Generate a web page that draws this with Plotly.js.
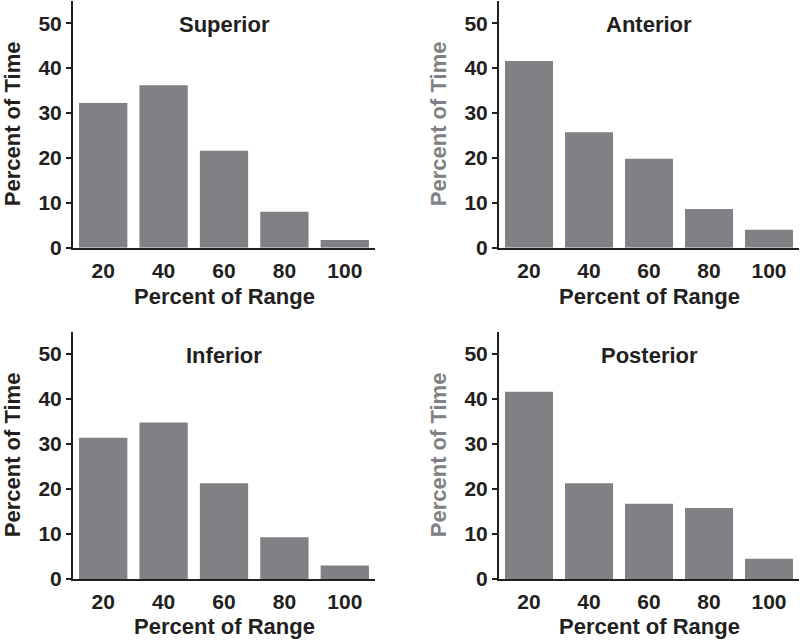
<!DOCTYPE html>
<html>
<head>
<meta charset="utf-8">
<script src="https://cdn.plot.ly/plotly-3.0.1.min.js"></script>
<style>
html,body{margin:0;padding:0;background:#fff;}
#chart{width:800px;height:640px;}
</style>
</head>
<body>
<div id="chart"></div>
<script>
const categories = ["20", "40", "60", "80", "100"];
const panelTitles = ["Superior", "Anterior", "Inferior", "Posterior"];
const superior = [32.2, 36.2, 21.6, 8.0, 1.7];
const anterior = [41.6, 25.7, 19.8, 8.6, 4.0];
const inferior = [31.4, 34.8, 21.3, 9.3, 3.0];
const posterior = [41.6, 21.3, 16.7, 15.8, 4.5];
const yTickVals = [0, 10, 20, 30, 40, 50];
const xTitle = "Percent of Range";
const yTitle = "Percent of Time";

const series = [superior, anterior, inferior, posterior];
const barColor = "#808184";
const textColor = "#231f20";
const grayTitle = "#808184";
const FONT = "Liberation Sans, Arial, Helvetica, sans-serif";

const W = 800, H = 640;
// pixel boxes for each panel: [left, right, top, bottom]
const boxes = [
  [73, 375, 0.7, 247.7],
  [499, 799, 0.7, 247.7],
  [73, 375, 331.5, 579],
  [499, 799, 331.5, 579]
];
const xTitleOffset = [49, 49, 47, 47];

const data = [];
const layout = {
  width: W, height: H,
  margin: {l: 0, r: 0, t: 0, b: 0},
  paper_bgcolor: "#fff", plot_bgcolor: "rgba(0,0,0,0)",
  showlegend: false,
  bargap: 0.2,
  font: {family: FONT, color: textColor, size: 21, weight: "bold"},
  annotations: []
};

series.forEach((vals, i) => {
  const n = i + 1;
  const xa = n === 1 ? "x" : "x" + n;
  const ya = n === 1 ? "y" : "y" + n;
  data.push({
    type: "bar", x: categories, y: vals, xaxis: xa, yaxis: ya,
    marker: {color: barColor, line: {width: 0}},
    hoverinfo: "x+y"
  });
  const b = boxes[i];
  layout[n === 1 ? "xaxis" : "xaxis" + n] = {
    domain: [b[0] / W, b[1] / W],
    anchor: ya,
    type: "category",
    range: [-0.5, 4.5],
    showline: true, linecolor: textColor, linewidth: 2,
    ticks: "outside", ticklen: 3, tickcolor: "rgba(0,0,0,0)",
    showgrid: false, zeroline: false,
    tickfont: {family: FONT, size: 21, color: textColor, weight: "bold"},
    fixedrange: true
  };
  layout[n === 1 ? "yaxis" : "yaxis" + n] = {
    domain: [1 - b[3] / H, 1 - b[2] / H],
    anchor: xa,
    range: [0, 55],
    tickvals: yTickVals,
    showline: true, linecolor: textColor, linewidth: 2,
    ticks: "outside", ticklen: 5, tickwidth: 2, tickcolor: textColor,
    showgrid: false, zeroline: false,
    tickfont: {family: FONT, size: 21, color: textColor, weight: "bold"},
    fixedrange: true
  };
  const cx = (b[0] + b[1]) / 2;
  // panel title
  layout.annotations.push({
    text: panelTitles[i], xref: "paper", yref: "paper",
    x: cx / W, y: 1 - (b[2] + 24) / H,
    xanchor: "center", yanchor: "middle", showarrow: false,
    font: {family: FONT, size: 22, color: textColor, weight: "bold"}
  });
  // x title
  layout.annotations.push({
    text: xTitle, xref: "paper", yref: "paper",
    x: cx / W, y: 1 - (b[3] + xTitleOffset[i]) / H,
    xanchor: "center", yanchor: "middle", showarrow: false,
    font: {family: FONT, size: 22, color: textColor, weight: "bold"}
  });
  // y title
  layout.annotations.push({
    text: yTitle, xref: "paper", yref: "paper",
    x: (b[0] - 61) / W, y: 1 - ((b[2] + b[3]) / 2) / H,
    xanchor: "center", yanchor: "middle", showarrow: false, textangle: -90,
    font: {family: FONT, size: 22, color: (i % 2 === 1) ? grayTitle : textColor, weight: "bold"}
  });
});

Plotly.newPlot("chart", data, layout, {displayModeBar: false, staticPlot: true});
</script>
</body>
</html>
